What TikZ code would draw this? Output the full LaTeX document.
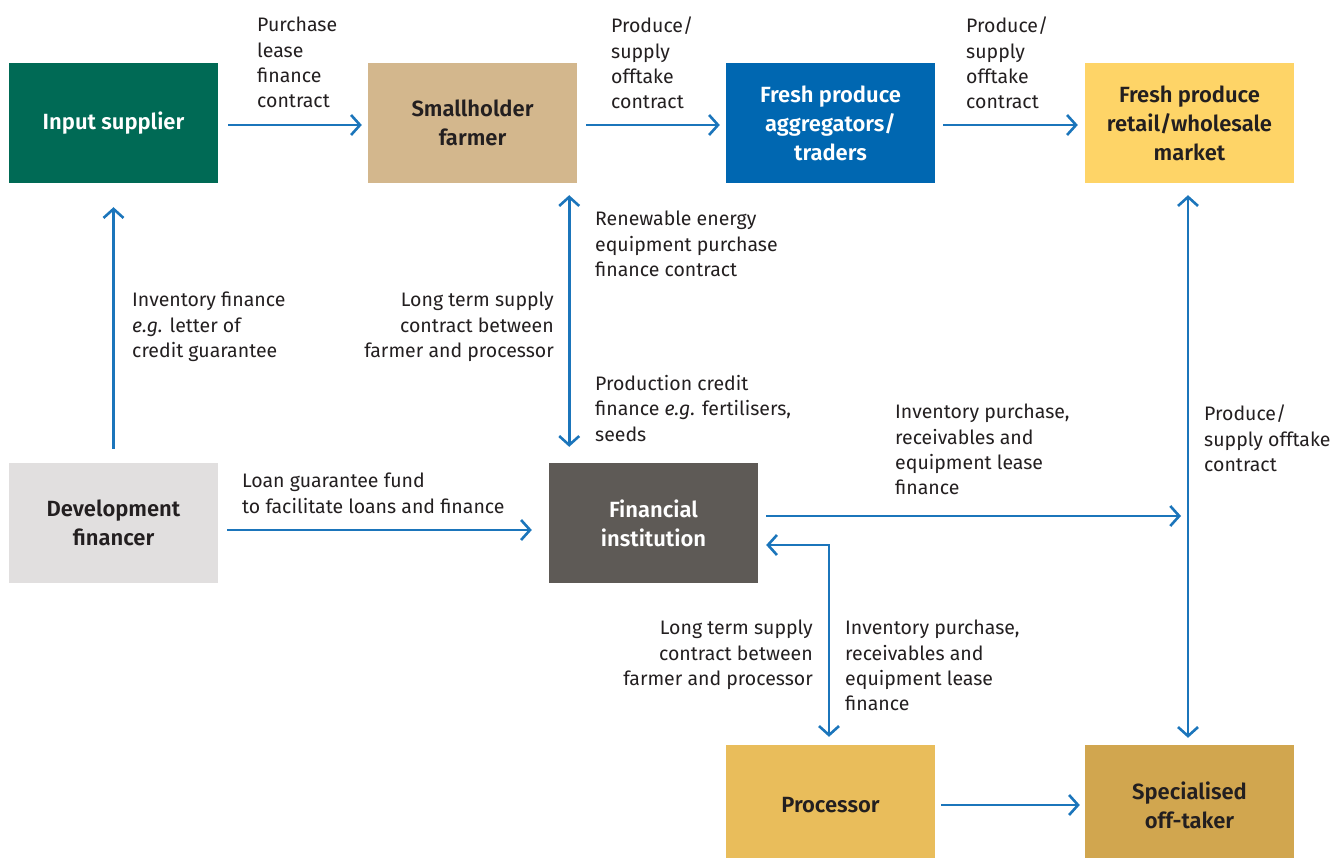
\documentclass[tikz,border=0pt]{standalone}
\usepackage{fontspec}
\setmainfont{Fira Sans}[BoldFont={Fira Sans SemiBold},BoldItalicFont={Fira Sans SemiBold Italic}]
\usetikzlibrary{arrows.meta,calc}
\definecolor{arrblue}{HTML}{1B75BB}
\definecolor{txt}{HTML}{231F20}
\definecolor{cgreen}{HTML}{006A55}
\definecolor{ctan}{HTML}{D3B78D}
\definecolor{cblue}{HTML}{0067B1}
\definecolor{cyellow}{HTML}{FED467}
\definecolor{clgray}{HTML}{E1DFDF}
\definecolor{cdgray}{HTML}{5E5A56}
\definecolor{cgold}{HTML}{E9BD5B}
\definecolor{cdgold}{HTML}{D1A64F}
\begin{document}
\begin{tikzpicture}[x=1pt,y=-1pt,
  box/.style={minimum width=209pt,minimum height=120pt,inner sep=0pt,align=center,
    font=\fontsize{22}{29}\selectfont\bfseries},
  lab/.style={inner sep=0pt,anchor=north west,align=left,text=txt,
    font=\fontsize{19.5}{25.3}\selectfont},
  labr/.style={lab,anchor=north east,align=right},
  arr/.style={draw=arrblue,line width=2.6pt,
    -{Straight Barb[length=9pt,width=20pt,line width=2.6pt]}},
  darr/.style={arr,{Straight Barb[length=9pt,width=20pt,line width=2.6pt]}-{Straight Barb[length=9pt,width=20pt,line width=2.6pt]}}]
\useasboundingbox (0,0) rectangle (1337,858);
% boxes
\node[box,fill=cgreen,text=white] (is) at (113.5,123) {Input supplier};
\node[box,fill=ctan,text=txt] (sf) at (472.5,123) {Smallholder\\farmer};
\node[box,fill=cblue,text=white] (ag) at (830.5,123) {Fresh produce\\aggregators/\\traders};
\node[box,fill=cyellow,text=txt] (rw) at (1189.5,123) {Fresh produce\\retail/wholesale\\market};
\node[box,fill=clgray,text=txt] (df) at (113.5,523) {Development\\financer};
\node[box,fill=cdgray,text=white] (fi) at (653.5,523) {Financial\\institution};
\node[box,fill=cgold,text=txt] (pr) at (830.5,805) {Processor};
\node[box,fill=cdgold,text=txt] (so) at (1189.5,805) {Specialised\\off-taker};
% labels
\node[lab] (l1) at (257,17) {Purchase\\lease\\finance\\contract};
\node[lab] (l2) at (611,17) {Produce/\\supply\\offtake\\contract};
\node[lab] (l3) at (966,17) {Produce/\\supply\\offtake\\contract};
\node[lab] (l4) at (595,211) {Renewable energy\\equipment purchase\\finance contract};
\node[lab] (l5) at (132,292) {Inventory finance\\\textit{e.g.} letter of\\credit guarantee};
\node[labr] (l6) at (554,292) {Long term supply\\contract between\\farmer and processor};
\node[lab] (l7) at (595,375) {Production credit\\finance \textit{e.g.} fertilisers,\\seeds};
\node[lab] (l8) at (895,404) {Inventory purchase,\\receivables and\\equipment lease\\finance};
\node[lab] (l9) at (1204,405) {Produce/\\supply offtake\\contract};
\node[lab] (l10) at (242,473) {Loan guarantee fund\\to facilitate loans and finance};
\node[labr] (l11) at (813,620) {Long term supply\\contract between\\farmer and processor};
\node[lab] (l12) at (845,620) {Inventory purchase,\\receivables and\\equipment lease\\finance};
% connectors
\draw[arr,shorten <=10pt,shorten >=6pt] ([yshift=-2pt]is.east) -- ([yshift=-2pt]sf.west);
\draw[arr,shorten <=9pt,shorten >=6pt] ([yshift=-2pt]sf.east) -- ([yshift=-2pt]ag.west);
\draw[arr,shorten <=8pt,shorten >=7pt] ([yshift=-2pt]ag.east) -- ([yshift=-2pt]rw.west);
\draw[arr,shorten <=14pt,shorten >=24pt] (df.north) -- (is.south);
\draw[darr,shorten <=12pt,shorten >=16pt] ([xshift=-8pt]sf.south east) -- ([xshift=-8pt]sf.south east |- fi.north);
\draw[arr,shorten <=9pt,shorten >=17pt] ([yshift=-7pt]df.east) -- ([yshift=-7pt]fi.west);
\coordinate (fiend) at (1181,516);
\draw[arr,shorten <=8pt] (fi.east |- fiend) -- (fiend);
\draw[darr,shorten <=12pt,shorten >=7pt] ([xshift=-1.5pt]rw.south) -- ([xshift=-1.5pt]so.north);
\draw[darr,shorten <=8pt,shorten >=8pt] ([yshift=-22pt]fi.east) -| ([xshift=-1.5pt]pr.north);
\draw[arr,shorten <=6pt,shorten >=5pt] (pr.east) -- (so.west);
\end{tikzpicture}
\end{document}
